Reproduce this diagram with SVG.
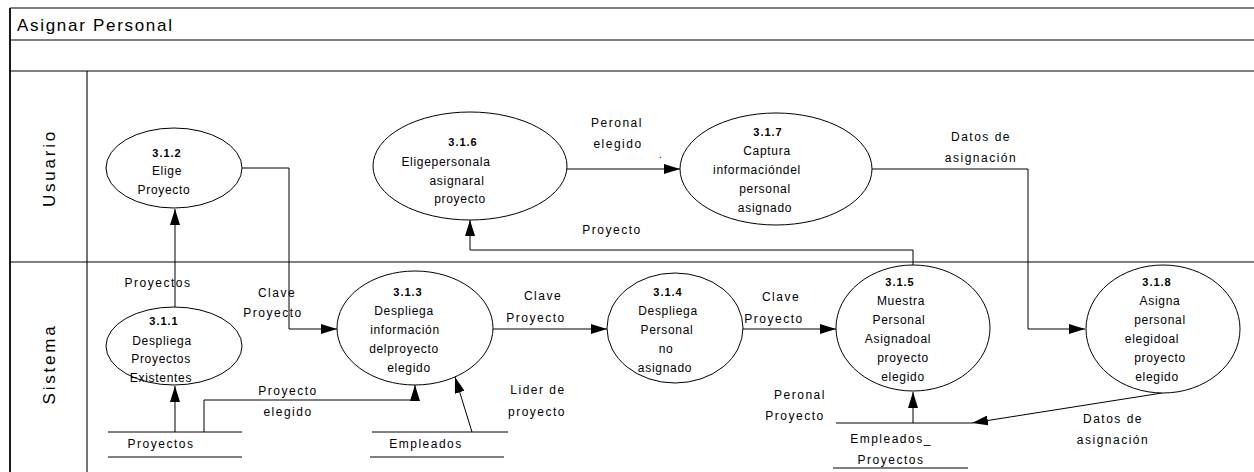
<svg xmlns="http://www.w3.org/2000/svg" width="1254" height="472" viewBox="0 0 1254 472">
<style>
text{font-family:"Liberation Sans",Arial,sans-serif;fill:#000}
.frame{stroke:#000;stroke-width:1.1;fill:none}
.node ellipse{fill:#fff;stroke:#000;stroke-width:1}
.node text{font-size:12px;letter-spacing:0.7px;text-anchor:middle}
.node .num{font-size:11px;font-weight:bold;letter-spacing:1px}
.conn path,.conn line{fill:none;stroke:#000;stroke-width:1}
.arr{marker-end:url(#ah)}
.lbl{font-size:12px;letter-spacing:1.5px;text-anchor:middle}
.store line{stroke:#000;stroke-width:1}
.store text{font-size:12px;letter-spacing:1.5px;text-anchor:middle}
.lane{font-size:17px;letter-spacing:2.8px;text-anchor:middle}
</style>
<defs>
<marker id="ah" markerUnits="userSpaceOnUse" markerWidth="16" markerHeight="10" refX="16" refY="5" orient="auto" viewBox="0 0 16 10">
<path d="M0,0 L16,5 L0,10 z" fill="#000"/>
</marker>
</defs>
<rect width="1254" height="472" fill="#fff"/>
<g id="frame" class="frame">
<line x1="10" y1="8" x2="1254" y2="8"/>
<line x1="10" y1="40" x2="1254" y2="40"/>
<line x1="10" y1="71" x2="1254" y2="71"/>
<line x1="10" y1="262" x2="1254" y2="262"/>
<line x1="10" y1="8" x2="10" y2="472" stroke-width="1.8"/>
<line x1="87" y1="71" x2="87" y2="472"/>
</g>
<text x="17" y="31" font-size="17" letter-spacing="1.7">Asignar Personal</text>
<text class="lane" transform="translate(55,168) rotate(-90)">Usuario</text>
<text class="lane" transform="translate(55,364) rotate(-90)">Sistema</text>

<g id="connectors" class="conn">
<line class="arr" x1="175" y1="307" x2="175" y2="209"/>
<path class="arr" d="M242,168 H289 V329 H337"/>
<line class="arr" x1="175" y1="432" x2="175" y2="386"/>
<path class="arr" d="M204,432 V400 H415 V385"/>
<line class="arr" x1="472" y1="432" x2="455" y2="377"/>
<line class="arr" x1="492" y1="329" x2="607" y2="329"/>
<line class="arr" x1="742" y1="329" x2="836" y2="329"/>
<path class="arr" d="M913,265 V250 H470 V220"/>
<line class="arr" x1="567" y1="169" x2="680" y2="169"/>
<path class="arr" d="M872,169 H1028 V329 H1085"/>
<line class="arr" x1="1162" y1="393" x2="972" y2="423"/>
<line class="arr" x1="913" y1="423" x2="913" y2="392"/>
</g>

<g id="labels">
<text class="lbl" x="158" y="287">Proyectos</text>
<text class="lbl" x="277" y="297">Clave</text>
<text class="lbl" x="273" y="317">Proyecto</text>
<text class="lbl" x="288" y="395">Proyecto</text>
<text class="lbl" x="288" y="416">elegido</text>
<text class="lbl" x="538" y="394">Lider de</text>
<text class="lbl" x="537" y="416">proyecto</text>
<text class="lbl" x="543" y="300">Clave</text>
<text class="lbl" x="536" y="322">Proyecto</text>
<text class="lbl" x="781" y="301">Clave</text>
<text class="lbl" x="774" y="323">Proyecto</text>
<text class="lbl" x="612" y="234">Proyecto</text>
<text class="lbl" x="617" y="127">Peronal</text>
<text class="lbl" x="618" y="148">elegido</text>
<text x="659" y="158" font-size="10">.</text>
<text class="lbl" x="981" y="141">Datos de</text>
<text class="lbl" x="981" y="162">asignación</text>
<text class="lbl" x="800" y="399">Peronal</text>
<text class="lbl" x="795" y="420">Proyecto</text>
<text class="lbl" x="1113" y="423">Datos de</text>
<text class="lbl" x="1113" y="444">asignación</text>
</g>

<g id="store-proyectos" class="store">
<line x1="108" y1="432" x2="242" y2="432"/>
<line x1="108" y1="457" x2="242" y2="457"/>
<text x="161" y="448">Proyectos</text>
</g>
<g id="store-empleados" class="store">
<line x1="372" y1="432" x2="508" y2="432"/>
<line x1="370" y1="457" x2="504" y2="457"/>
<text x="426" y="448" letter-spacing="2">Empleados</text>
</g>
<g id="store-empleados-proyectos" class="store">
<line x1="836" y1="423" x2="972" y2="423"/>
<line x1="833" y1="468" x2="968" y2="468"/>
<text x="891" y="443" letter-spacing="2">Empleados_</text>
<text x="891" y="464">Proyectos</text>
</g>

<g id="p312" class="node">
<ellipse cx="174" cy="168" rx="68" ry="40"/>
<text class="num" x="167" y="157">3.1.2</text>
<text x="167" y="175">Elige</text>
<text x="164" y="194">Proyecto</text>
</g>
<g id="p311" class="node">
<ellipse cx="174" cy="346" rx="68" ry="39"/>
<text class="num" x="164" y="325">3.1.1</text>
<text x="162" y="345">Despliega</text>
<text x="161" y="363">Proyectos</text>
<text x="161" y="382">Existentes</text>
</g>
<g id="p313" class="node">
<ellipse cx="415" cy="328" rx="78" ry="57"/>
<text class="num" x="408" y="296">3.1.3</text>
<text x="404" y="315">Despliega</text>
<text x="405" y="334">información</text>
<text x="404" y="353">delproyecto</text>
<text x="409" y="372">elegido</text>
</g>
<g id="p314" class="node">
<ellipse cx="675" cy="328" rx="68" ry="55"/>
<text class="num" x="668" y="296">3.1.4</text>
<text x="668" y="315">Despliega</text>
<text x="667" y="334">Personal</text>
<text x="666" y="353">no</text>
<text x="665" y="372">asignado</text>
</g>
<g id="p315" class="node">
<ellipse cx="913" cy="328" rx="77" ry="63"/>
<text class="num" x="900" y="286">3.1.5</text>
<text x="901" y="305">Muestra</text>
<text x="899" y="324">Personal</text>
<text x="898" y="343">Asignadoal</text>
<text x="903" y="362">proyecto</text>
<text x="903" y="381">elegido</text>
</g>
<g id="p318" class="node">
<ellipse cx="1163" cy="329" rx="77" ry="64"/>
<text class="num" x="1157" y="286">3.1.8</text>
<text x="1160" y="305">Asigna</text>
<text x="1160" y="324">personal</text>
<text x="1152" y="343">elegidoal</text>
<text x="1160" y="362">proyecto</text>
<text x="1157" y="381">elegido</text>
</g>
<g id="p316" class="node">
<ellipse cx="470" cy="166" rx="97" ry="54"/>
<text class="num" x="463" y="146">3.1.6</text>
<text x="446" y="166">Eligepersonala</text>
<text x="457" y="185">asignaral</text>
<text x="460" y="203">proyecto</text>
</g>
<g id="p317" class="node">
<ellipse cx="776" cy="169" rx="96" ry="56"/>
<text class="num" x="768" y="136">3.1.7</text>
<text x="767" y="155">Captura</text>
<text x="757" y="174">informacióndel</text>
<text x="765" y="193">personal</text>
<text x="765" y="212">asignado</text>
</g>
</svg>
